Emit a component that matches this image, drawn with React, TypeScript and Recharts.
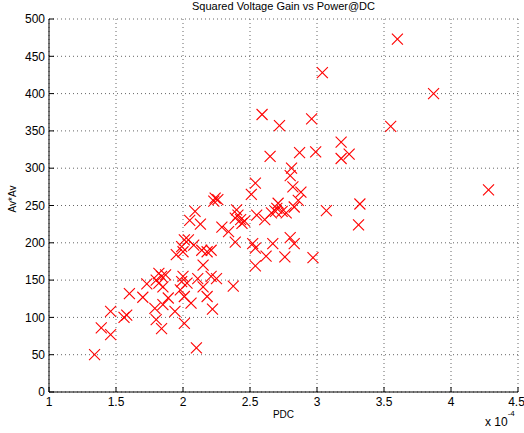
import React from 'react';
import { ScatterChart, Scatter, XAxis, YAxis, CartesianGrid } from 'recharts';

// PDC in units of 1e-4
const pdc = [
  1.34, 1.39, 1.46, 1.46, 1.56, 1.58, 1.60, 1.70, 1.73, 1.79,
  1.80, 1.84, 1.80, 1.82, 1.84, 1.87, 1.82, 1.85, 1.85, 1.89,
  1.94, 1.95, 2.00, 1.98, 2.01, 2.01, 1.99, 2.03, 2.10, 2.06,
  2.22, 2.18, 2.15, 2.09, 2.05, 2.13, 2.01, 2.04, 2.08, 1.99,
  2.00, 2.14, 2.18, 2.21, 2.15, 2.24, 2.23, 2.26, 2.25, 2.21,
  2.11, 2.29, 2.34, 2.375, 2.39, 2.40, 2.41, 2.39, 2.43, 2.44,
  2.46, 2.51, 2.54, 2.52, 2.54, 2.54, 2.55, 2.61, 2.62, 2.59,
  2.65, 2.72, 2.96, 2.87, 2.99, 2.81, 2.80, 2.82, 2.88, 2.86,
  2.83, 2.71, 2.70, 2.69, 2.74, 2.66, 2.77, 2.80, 2.83, 2.67,
  2.76, 2.97, 3.07, 3.04, 3.18, 3.18, 3.24, 3.32, 3.31, 3.55,
  3.60, 3.87, 4.28,
];
const gain = [
  50, 86, 77, 108, 100, 103, 132, 127, 145, 112,
  97, 85, 150, 159, 155, 157, 146, 141, 117, 126,
  108, 184, 155, 137, 128, 92, 148, 146, 59, 119,
  111, 128, 141, 242, 230, 225, 204, 204, 197, 195,
  188, 190, 188, 190, 170, 260, 256, 258, 152, 155,
  152, 221, 215, 142, 201, 244, 237, 233, 231, 226,
  229, 265, 280, 199, 193, 169, 237, 231, 182, 372,
  316, 357, 366, 321, 322, 300, 290, 275, 268, 257,
  248, 253, 246, 242, 242, 240, 240, 207, 199, 199,
  181, 180, 243, 428, 335, 313, 319, 252, 224, 356,
  473, 400, 271,
];

const xTicks = [1, 1.5, 2, 2.5, 3, 3.5, 4, 4.5];
const yTicks = [0, 50, 100, 150, 200, 250, 300, 350, 400, 450, 500];

const title = 'Squared Voltage Gain vs Power@DC';
const xLabel = 'PDC';
const yLabel = 'Av*Av';

const data = pdc.map((x, i) => ({ x, y: gain[i] }));

const FONT = '"Liberation Sans", Arial, Helvetica, sans-serif';
const RED = '#ff0000';

const Cross = (props: any) => {
  const { cx, cy } = props;
  if (cx == null || cy == null) return null;
  const r = 5.5;
  return (
    <g>
      <line x1={cx - r} y1={cy - r} x2={cx + r} y2={cy + r} stroke={RED} strokeWidth={1.1} />
      <line x1={cx - r} y1={cy + r} x2={cx + r} y2={cy - r} stroke={RED} strokeWidth={1.1} />
    </g>
  );
};

export default function App() {
  return (
    <div style={{ position: 'absolute', left: 0, top: 0, width: 524, height: 433, background: '#fff', fontFamily: FONT }}>
      <ScatterChart width={524} height={433} margin={{ top: 19, right: 6, bottom: 11, left: 0 }}>
        <CartesianGrid stroke="#666" strokeDasharray="1 3" />
        <XAxis
          type="number"
          dataKey="x"
          domain={[1, 4.5]}
          ticks={xTicks}
          height={30}
          tickSize={-5}
          tickMargin={10.5}
          stroke="#000"
          tick={{ fill: '#000', fontSize: 12, fontFamily: FONT }}
          label={{ value: xLabel, position: 'insideBottom', offset: 4, fill: '#000', fontSize: 10, fontFamily: FONT }}
        />
        <YAxis
          type="number"
          dataKey="y"
          domain={[0, 500]}
          ticks={yTicks}
          width={49}
          tickSize={-5}
          tickMargin={9}
          stroke="#000"
          tick={{ fill: '#000', fontSize: 12, fontFamily: FONT }}
        />
        <Scatter data={data} shape={Cross} fill={RED} stroke={RED} isAnimationActive={false} />
      </ScatterChart>
      <div style={{ position: 'absolute', left: 49, top: 0, width: 469, textAlign: 'center', fontSize: 11, lineHeight: '13px', color: '#000' }}>
        {title}
      </div>
      <div style={{ position: 'absolute', left: 13, top: 199, transform: 'translate(-50%, -50%) rotate(-90deg)', fontSize: 10, lineHeight: '12px', color: '#000', whiteSpace: 'nowrap' }}>
        {yLabel}
      </div>
      <div style={{ position: 'absolute', left: 485, top: 415, fontSize: 12, lineHeight: '14px', color: '#000', whiteSpace: 'nowrap' }}>
        x 10<span style={{ fontSize: 8, position: 'relative', top: -10 }}>-4</span>
      </div>
    </div>
  );
}
